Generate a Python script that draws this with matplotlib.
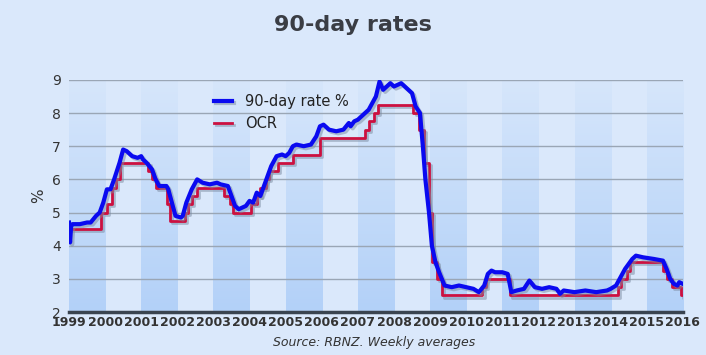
import numpy as np
import matplotlib.pyplot as plt
import matplotlib.patheffects as pe
from matplotlib.colors import LinearSegmentedColormap

# 90-day bank bill rate (decimal year, %)
rate_dates = [1999.0, 1999.03, 1999.06, 1999.1, 1999.3, 1999.5, 1999.6, 1999.75, 1999.85,
              1999.95, 2000.05, 2000.15, 2000.25, 2000.4, 2000.5, 2000.6, 2000.75,
              2000.9, 2001.0, 2001.05, 2001.15, 2001.3, 2001.4, 2001.5, 2001.7,
              2001.75, 2001.85, 2001.95, 2002.1, 2002.15, 2002.25, 2002.4, 2002.55,
              2002.7, 2002.9, 2003.1, 2003.2, 2003.4, 2003.5, 2003.6, 2003.7, 2003.8,
              2003.9, 2004.0, 2004.1, 2004.2, 2004.3, 2004.4, 2004.5, 2004.6, 2004.75,
              2004.9, 2005.0, 2005.1, 2005.2, 2005.3, 2005.5, 2005.7, 2005.85, 2005.95,
              2006.05, 2006.2, 2006.4, 2006.6, 2006.75, 2006.8, 2006.9, 2007.0, 2007.1,
              2007.3, 2007.4, 2007.5, 2007.6, 2007.7, 2007.9, 2008.0, 2008.1, 2008.2,
              2008.35, 2008.5, 2008.6, 2008.72, 2008.8, 2008.87, 2008.97, 2009.05,
              2009.15, 2009.25, 2009.4, 2009.6, 2009.8, 2010.0, 2010.2, 2010.35, 2010.5,
              2010.6, 2010.7, 2010.8, 2011.0, 2011.15, 2011.25, 2011.4, 2011.6, 2011.75,
              2011.9, 2012.1, 2012.3, 2012.5, 2012.6, 2012.7, 2013.0, 2013.3, 2013.6,
              2013.9, 2014.0, 2014.15, 2014.25, 2014.4, 2014.6, 2014.7, 2014.9, 2015.2,
              2015.45, 2015.55, 2015.65, 2015.75, 2015.85, 2015.9, 2016.0]
rate_values = [4.7, 4.1, 4.6, 4.65, 4.65, 4.7, 4.7, 4.9, 5.0,
               5.3, 5.7, 5.7, 6.0, 6.5, 6.9, 6.85, 6.7,
               6.65, 6.7, 6.6, 6.5, 6.3, 6.0, 5.8, 5.8,
               5.7, 5.3, 4.9, 4.85, 4.9, 5.3, 5.7, 6.0,
               5.9, 5.85, 5.9, 5.85, 5.8, 5.5, 5.2, 5.1, 5.15,
               5.2, 5.35, 5.3, 5.6, 5.5, 5.8, 6.1, 6.4, 6.7,
               6.75, 6.7, 6.8, 7.0, 7.05, 7.0, 7.05, 7.3, 7.6,
               7.65, 7.5, 7.45, 7.5, 7.7, 7.6, 7.75, 7.8, 7.9,
               8.1, 8.3, 8.5, 8.95, 8.7, 8.9, 8.8, 8.85, 8.9,
               8.75, 8.6, 8.2, 8.0, 7.0, 6.0, 5.0, 4.0,
               3.5, 3.2, 2.8, 2.75, 2.8, 2.75, 2.7, 2.6, 2.8,
               3.15, 3.25, 3.2, 3.2, 3.15, 2.6, 2.65, 2.7, 2.95,
               2.75, 2.7, 2.75, 2.7, 2.55, 2.65, 2.6, 2.65, 2.6,
               2.65, 2.7, 2.8, 3.0, 3.3, 3.6, 3.7, 3.65, 3.6,
               3.55, 3.3, 3.0, 2.85, 2.8, 2.9, 2.85]

# Official Cash Rate changes (decimal year, %)
ocr_dates = [1999.0, 1999.88, 2000.05, 2000.2, 2000.3, 2000.4, 2001.2, 2001.3,
             2001.4, 2001.72, 2001.8, 2002.2, 2002.3, 2002.4, 2002.55, 2003.3,
             2003.45, 2003.55, 2004.05, 2004.2, 2004.3, 2004.45, 2004.55, 2004.8,
             2005.2, 2005.95, 2007.2, 2007.3, 2007.45, 2007.55, 2008.54, 2008.7,
             2008.82, 2008.96, 2009.06, 2009.18, 2009.34, 2010.45, 2010.55, 2011.2,
             2014.2, 2014.3, 2014.45, 2014.55, 2015.45, 2015.55, 2015.7, 2015.95, 2016.0]
ocr_values = [4.5, 5.0, 5.25, 5.75, 6.0, 6.5, 6.25, 6.0,
              5.75, 5.25, 4.75, 5.0, 5.25, 5.5, 5.75, 5.5,
              5.25, 5.0, 5.25, 5.5, 5.75, 6.0, 6.25, 6.5,
              6.75, 7.25, 7.5, 7.75, 8.0, 8.25, 8.0, 7.5,
              6.5, 5.0, 3.5, 3.0, 2.5, 2.75, 3.0, 2.5,
              2.75, 3.0, 3.25, 3.5, 3.25, 3.0, 2.75, 2.5, 2.5]

years = list(range(1999, 2017))

bg = '#dae8fb'
fig = plt.figure(figsize=(7.06, 3.55), dpi=100, facecolor=bg)
ax = fig.add_axes([0.0977, 0.121, 0.8695, 0.654])
ax.set_facecolor(bg)

# shaded bands every other year, darker towards the bottom
band_cmap = LinearSegmentedColormap.from_list('band', ['#b3d1f8', '#d6e6fb'])
grad = np.linspace(0, 1, 100).reshape(-1, 1)
for y0 in years[:-1:2]:
    ax.imshow(grad, extent=[y0, y0 + 1, 2, 9], origin='lower', aspect='auto',
              cmap=band_cmap, zorder=0)

for v in range(3, 10):
    ax.axhline(v, color='#9aa6b5', lw=1, zorder=1)

shadow = [pe.SimpleLineShadow(offset=(1.5, -1.5), shadow_color='#7a8aa0', alpha=0.5),
          pe.Normal()]
ax.plot(ocr_dates, ocr_values, drawstyle='steps-post', color='#cc1040', lw=2,
        label='OCR', zorder=3, path_effects=shadow)
ax.plot(rate_dates, rate_values, color='#0a0af0', lw=3, label='90-day rate %',
        zorder=4, path_effects=shadow)

handles, labels = ax.get_legend_handles_labels()
ax.legend(handles[::-1], labels[::-1], loc='upper left', bbox_to_anchor=(0.215, 0.995),
          frameon=False, fontsize=10.5, handlelength=1.2, labelspacing=0.45,
          handletextpad=0.9, labelcolor='#222222')

ax.set_xlim(1999, 2016)
ax.set_ylim(2, 9)
ax.set_xticks(years)
ax.set_xticklabels([str(y) for y in years], fontsize=9, fontweight='bold', color='#333333')
ax.set_yticks(range(2, 10))
ax.tick_params(axis='y', labelsize=10, labelcolor='#333333', length=0, pad=6)
ax.tick_params(axis='x', length=0, pad=3)
ax.set_ylabel('%', fontsize=11, color='#333333', labelpad=4)
for s in ['top', 'right', 'left']:
    ax.spines[s].set_visible(False)
ax.spines['bottom'].set_color('#3a4450')
ax.spines['bottom'].set_linewidth(2.5)

fig.text(0.5, 0.93, '90-day rates', ha='center', va='center', fontsize=16,
         fontweight='bold', color='#3a3d44')
fig.text(0.53, 0.035, 'Source: RBNZ. Weekly averages', ha='center', va='center',
         fontsize=9, style='italic', color='#333333')

fig.savefig('out.png', dpi=100, facecolor=bg)
